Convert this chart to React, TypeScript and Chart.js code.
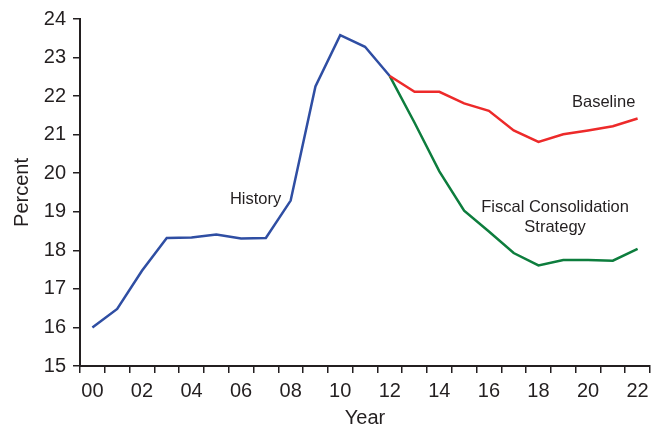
import React, { useEffect, useRef } from "react";
import { Chart, registerables } from "chart.js";

Chart.register(...registerables);

const years = ["00","01","02","03","04","05","06","07","08","09","10","11","12","13","14","15","16","17","18","19","20","21","22"];
const history = [16.0, 16.48, 17.47, 18.32, 18.33, 18.41, 18.31, 18.32, 19.29, 22.25, 23.58, 23.28, 22.52];
const baseline = [22.11, 22.11, 21.81, 21.62, 21.11, 20.81, 21.01, 21.11, 21.22, 21.42];
const fiscal = [21.31, 20.05, 19.03, 18.49, 17.93, 17.61, 17.75, 17.75, 17.73, 18.04];

const TEXT = "#231f20";
const FONT = "'Liberation Sans', Arial, sans-serif";

const historySeries = years.map((_, i) => (i < history.length ? history[i] : null));
const projStart = history.length - 1;
const baselineSeries = years.map((_, i) =>
  i < projStart ? null : i === projStart ? history[projStart] : baseline[i - projStart - 1]
);
const fiscalSeries = years.map((_, i) =>
  i < projStart ? null : i === projStart ? history[projStart] : fiscal[i - projStart - 1]
);

const labelNotes = [
  { lines: ["History"], x: 7.62, y: 19.31, align: "right" as CanvasTextAlign },
  { lines: ["Baseline"], x: 20.63, y: 21.84, align: "center" as CanvasTextAlign },
  { lines: ["Fiscal Consolidation", "Strategy"], x: 18.67, y: 19.1, align: "center" as CanvasTextAlign },
];

const notesPlugin = {
  id: "notes",
  afterDatasetsDraw(chart: any) {
    const { ctx, scales } = chart;
    ctx.save();
    ctx.fillStyle = TEXT;
    ctx.font = `16.5px ${FONT}`;
    ctx.textBaseline = "middle";
    labelNotes.forEach((n) => {
      const px = scales.x.getPixelForValue(n.x);
      const py = scales.y.getPixelForValue(n.y);
      ctx.textAlign = n.align;
      n.lines.forEach((t, k) => ctx.fillText(t, px, py + k * 20));
    });
    ctx.restore();
  },
};

export default function App() {
  const ref = useRef<HTMLCanvasElement>(null);
  useEffect(() => {
    document.body.style.margin = "0";
    const chart = new Chart(ref.current!, {
      type: "line",
      data: {
        labels: years,
        datasets: [
          { label: "Baseline", data: baselineSeries, borderColor: "#ed2a2a", borderWidth: 2.5, pointRadius: 0, fill: false, tension: 0 },
          { label: "Fiscal Consolidation Strategy", data: fiscalSeries, borderColor: "#0d7d3d", borderWidth: 2.5, pointRadius: 0, fill: false, tension: 0 },
          { label: "History", data: historySeries, borderColor: "#2f4ea3", borderWidth: 2.5, pointRadius: 0, fill: false, tension: 0 },
        ],
      },
      options: {
        animation: false,
        responsive: true,
        maintainAspectRatio: false,
        layout: { padding: { top: 19, right: 1, left: 0, bottom: 0 } },
        plugins: { legend: { display: false }, tooltip: { enabled: false } },
        scales: {
          x: {
            type: "category",
            offset: true,
            afterFit: (s: any) => { s.height = 64; s.paddingLeft = 0; s.paddingRight = 0; },
            grid: { offset: true, drawOnChartArea: false, drawTicks: true, tickLength: 7, color: TEXT, lineWidth: 1.5 },
            border: { display: true, color: TEXT, width: 2 },
            ticks: {
              autoSkip: false,
              maxRotation: 0,
              padding: 6,
              color: TEXT,
              font: { family: FONT, size: 20 },
              callback: (_v: any, i: number) => (i % 2 === 0 ? years[i] : ""),
            },
            title: { display: true, text: "Year", color: TEXT, font: { family: FONT, size: 20 }, padding: { top: 0, bottom: 0 } },
          },
          y: {
            min: 15,
            max: 24,
            afterFit: (s: any) => { s.width = 80; },
            grid: { drawOnChartArea: false, drawTicks: true, tickLength: 7, color: TEXT, lineWidth: 1.5 },
            border: { display: true, color: TEXT, width: 2 },
            ticks: { stepSize: 1, padding: 7, color: TEXT, font: { family: FONT, size: 20 } },
            title: { display: true, text: "Percent", color: TEXT, font: { family: FONT, size: 20 }, padding: { top: 10, bottom: 0 } },
          },
        },
      },
      plugins: [notesPlugin],
    });
    return () => chart.destroy();
  }, []);
  return (
    <div style={{ width: 651, height: 430, position: "relative" }}>
      <canvas ref={ref} />
    </div>
  );
}
